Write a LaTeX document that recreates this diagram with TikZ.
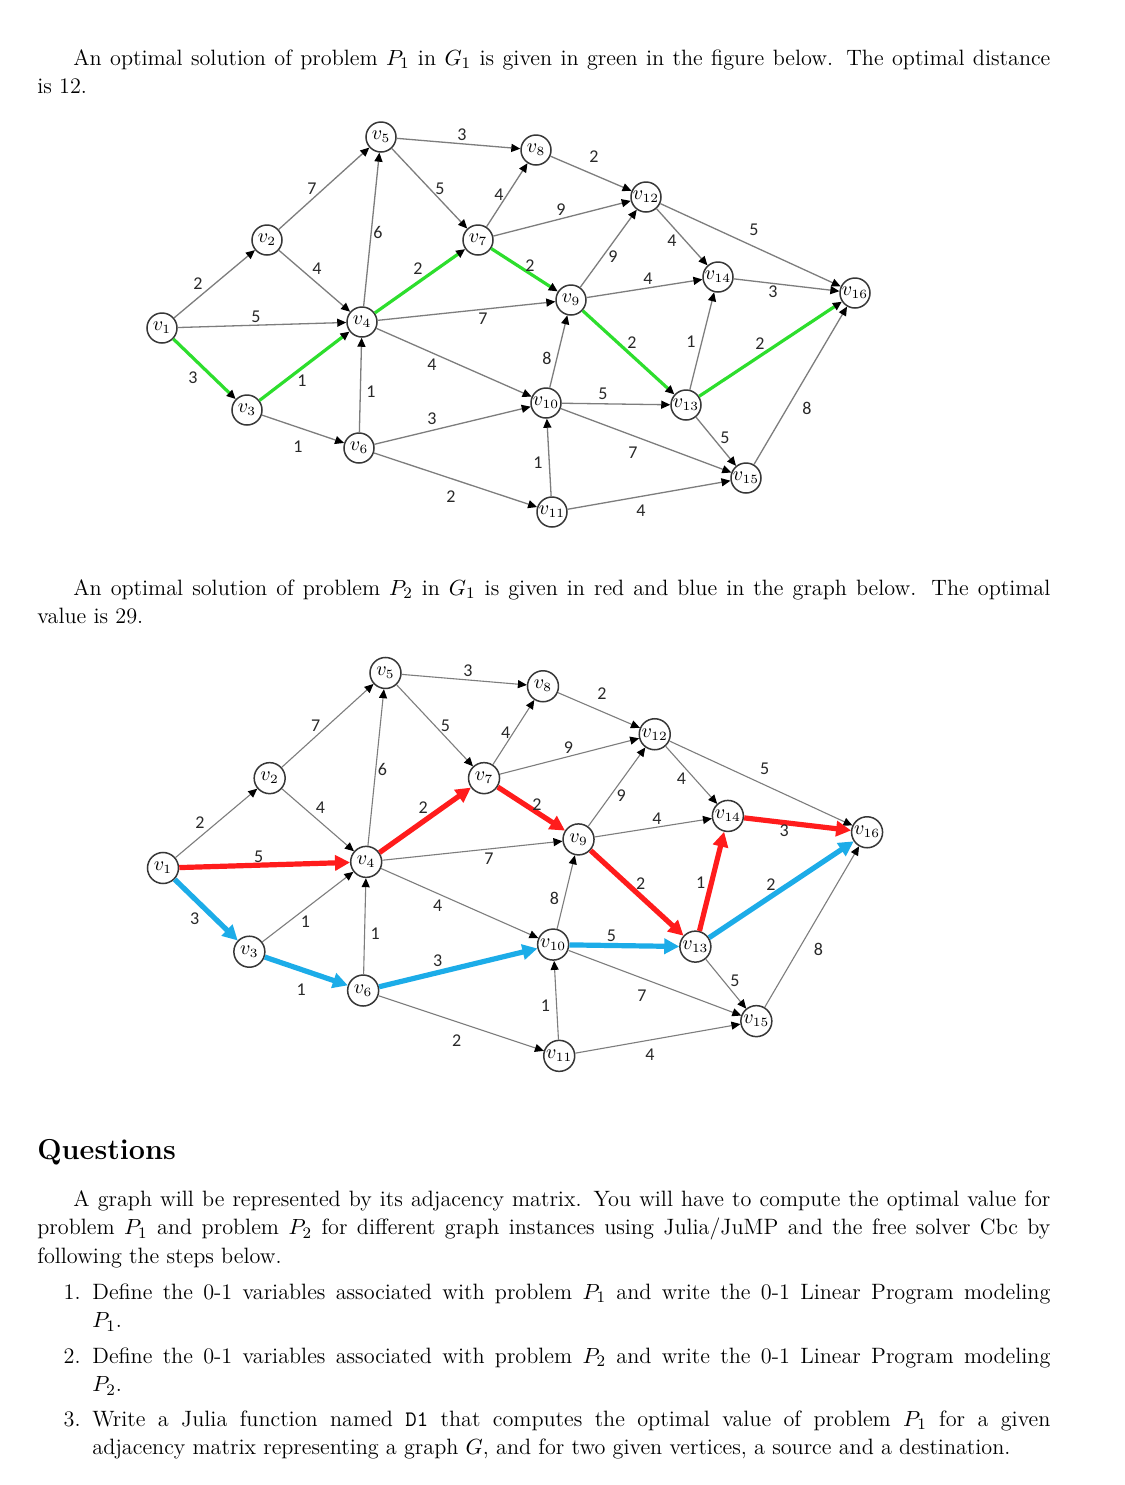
\documentclass[tikz,border=0pt]{standalone}
\usepackage{fontspec}
\newfontfamily\labfont{Carlito}
\usetikzlibrary{arrows.meta}
\definecolor{pgreen}{RGB}{45,222,45}
\definecolor{pred}{RGB}{255,28,28}
\definecolor{pblue}{RGB}{28,172,232}
\definecolor{edgegray}{RGB}{125,125,125}
\definecolor{nodegray}{RGB}{55,55,55}
\definecolor{labgray}{RGB}{40,40,40}
\newcommand\vname[1]{$v_{\hbox{\fontsize{6.3}{7}\selectfont#1}}$}

\newcommand\drawgraph[1]{%
  \node[vx] (#1v1)  at (162,328) {\vname{1}};
  \node[vx] (#1v2)  at (267,240) {\vname{2}};
  \node[vx] (#1v3)  at (247,410) {\vname{3}};
  \node[vx] (#1v4)  at (362,322) {\vname{4}};
  \node[vx] (#1v5)  at (381,137) {\vname{5}};
  \node[vx] (#1v6)  at (359,448) {\vname{6}};
  \node[vx] (#1v7)  at (478,240) {\vname{7}};
  \node[vx] (#1v8)  at (536,150) {\vname{8}};
  \node[vx] (#1v9)  at (571,300) {\vname{9}};
  \node[vx] (#1v10) at (546,403) {\vname{10}};
  \node[vx] (#1v11) at (552,512) {\vname{11}};
  \node[vx] (#1v12) at (646,197) {\vname{12}};
  \node[vx] (#1v13) at (686,405) {\vname{13}};
  \node[vx] (#1v14) at (718,277) {\vname{14}};
  \node[vx] (#1v15) at (746,478) {\vname{15}};
  \node[vx] (#1v16) at (855,293) {\vname{16}};
  \draw[ed] (#1v1) -- node[lab,shift={(-16.5,0)}]{2} (#1v2);
  \draw[ed] (#1v2) -- node[lab,shift={(-12,0)}]{7} (#1v5);
  \draw[ed] (#1v2) -- node[lab,shift={(2.5,-12)}]{4} (#1v4);
  \draw[ed] (#1v4) -- node[lab,shift={(6.5,2.5)}]{6} (#1v5);
  \draw[ed] (#1v6) -- node[lab,shift={(10.5,7)}]{1} (#1v4);
  \draw[ed] (#1v5) -- node[lab,shift={(10.5,0)}]{5} (#1v7);
  \draw[ed] (#1v5) -- node[lab,shift={(3.5,-8.5)}]{3} (#1v8);
  \draw[ed] (#1v4) -- node[lab,shift={(16.5,8)}]{7} (#1v9);
  \draw[ed] (#1v4) -- node[lab,shift={(-22,2.5)}]{4} (#1v10);
  \draw[ed] (#1v6) -- node[lab,shift={(-4.5,17)}]{2} (#1v11);
  \draw[ed] (#1v7) -- node[lab,shift={(-8,0)}]{4} (#1v8);
  \draw[ed] (#1v7) -- node[lab,shift={(-1,-8.5)}]{9} (#1v12);
  \draw[ed] (#1v8) -- node[lab,shift={(3,-16.5)}]{2} (#1v12);
  \draw[ed] (#1v9) -- node[lab,shift={(4.5,8.5)}]{9} (#1v12);
  \draw[ed] (#1v9) -- node[lab,shift={(3.5,-9.5)}]{4} (#1v14);
  \draw[ed] (#1v10) -- node[lab,shift={(-11.5,6.5)}]{8} (#1v9);
  \draw[ed] (#1v10) -- node[lab,shift={(-13,12.5)}]{7} (#1v15);
  \draw[ed] (#1v11) -- node[lab,shift={(-11,5.5)}]{1} (#1v10);
  \draw[ed] (#1v11) -- node[lab,shift={(-8,16)}]{4} (#1v15);
  \draw[ed] (#1v12) -- node[lab,shift={(-10,4)}]{4} (#1v14);
  \draw[ed] (#1v12) -- node[lab,shift={(3.5,-15)}]{5} (#1v16);
  \draw[ed] (#1v13) -- node[lab,shift={(9,-3.5)}]{5} (#1v15);
  \draw[ed] (#1v15) -- node[lab,shift={(6.5,22.5)}]{8} (#1v16);
  \draw[ed,gp] (#1v3) -- node[lab,shift={(-2.5,15)}]{1} (#1v4);
  \draw[ed,pb] (#1v3) -- node[lab,shift={(-5,18)}]{1} (#1v6);
  \draw[ed,pb] (#1v6) -- node[lab,shift={(-20.5,-6.5)}]{3} (#1v10);
  \draw[ed,pb] (#1v10) -- node[lab,shift={(-13,-10)}]{5} (#1v13);
  \draw[ed,gb] (#1v1) -- node[lab,shift={(-11.5,9)}]{3} (#1v3);
  \draw[ed,gb] (#1v13) -- node[lab,shift={(-10.5,-5)}]{2} (#1v16);
  \draw[ed,pr] (#1v1) -- node[lab,shift={(-6,-8)}]{5} (#1v4);
  \draw[ed,pr] (#1v14) -- node[lab,shift={(-13.5,7)}]{3} (#1v16);
  \draw[ed,pr] (#1v13) -- node[lab,shift={(-11,1)}]{1} (#1v14);
  \draw[ed,gr] (#1v4) -- node[lab,shift={(-2,-12)}]{2} (#1v7);
  \draw[ed,gr] (#1v7) -- node[lab,shift={(5.5,-4)}]{2} (#1v9);
  \draw[ed,gr] (#1v9) -- node[lab,shift={(3.5,-9.5)}]{2} (#1v13);
}

\begin{document}
\begin{tikzpicture}[x=0.5pt,y=-0.5pt,
  vx/.style={circle,draw=nodegray,line width=0.75pt,fill=white,
    minimum size=15pt,inner sep=0pt,font=\fontsize{10}{11}\selectfont},
  ed/.style={draw=edgegray,line width=0.65pt,
    -{Triangle[length=4.5pt,width=4pt,color=black]}},
  lab/.style={font=\labfont\fontsize{9}{10}\selectfont,text=labgray,inner sep=0pt},
  greenpath/.style={draw=pgreen,line width=1.6pt,
    -{Triangle[length=4.5pt,width=4pt,color=black]}},
  redpath/.style={draw=pred,line width=2.6pt,
    -{Triangle[length=7.5pt,width=7.5pt,color=pred]}},
  bluepath/.style={draw=pblue,line width=2.6pt,
    -{Triangle[length=7.5pt,width=7.5pt,color=pblue]}},
  para/.style={anchor=north west,inner sep=0pt,align=justify,
    font=\fontsize{11.1}{14.25}\selectfont},
]
\useasboundingbox[fill=white] (0,0) rectangle (1125,1485);

% ---------- text ----------
\node[para,text width=506.5pt] (t1) at (37,45)
  {\noindent\rule{0pt}{10pt}\hspace*{18pt}An optimal solution of problem $P_1$ in $G_1$ is given in green in the figure below. The optimal distance\linebreak is 12.};
\node[para,text width=506.5pt] (t2) at (37,575)
  {\noindent\rule{0pt}{10pt}\hspace*{18pt}An optimal solution of problem $P_2$ in $G_1$ is given in red and blue in the graph below. The optimal\linebreak value is 29.};
\node[anchor=base west,inner sep=0pt,font=\fontsize{14.4}{17}\selectfont\bfseries] (hq) at (37,1159) {Questions};
\node[para,text width=506.5pt] (t3) at (37,1186)
  {\noindent\rule{0pt}{10pt}\hspace*{18pt}A graph will be represented by its adjacency matrix. You will have to compute the optimal value for\linebreak problem $P_1$ and problem $P_2$ for different graph instances using Julia/JuMP and the free solver Cbc by\linebreak following the steps below.};
\node[para,anchor=north east] (n1) at (81,1279) {\rule{0pt}{10pt}1.};
\node[para,text width=479pt] (i1) at (92,1279)
  {\noindent\rule{0pt}{10pt}Define the 0-1 variables associated with problem $P_1$ and write the 0-1 Linear Program modeling\linebreak $P_1$.};
\node[para,anchor=north east] (n2) at (81,1343) {\rule{0pt}{10pt}2.};
\node[para,text width=479pt] (i2) at (92,1343)
  {\noindent\rule{0pt}{10pt}Define the 0-1 variables associated with problem $P_2$ and write the 0-1 Linear Program modeling\linebreak $P_2$.};
\node[para,anchor=north east] (n3) at (81,1406) {\rule{0pt}{10pt}3.};
\node[para,text width=479pt] (i3) at (92,1406)
  {\noindent\rule{0pt}{10pt}Write a Julia function named \texttt{D1} that computes the optimal value of problem $P_1$ for a given\linebreak adjacency matrix representing a graph $G$, and for two given vertices, a source and a destination.};

% ---------- graph 1 ----------
\begin{scope}[gb/.style=greenpath,gp/.style=greenpath,gr/.style=greenpath,
  pr/.style={},pb/.style={}]
  \drawgraph{a}
\end{scope}

% ---------- graph 2 ----------
\begin{scope}[xshift=-0.8pt,yshift=-266.55pt,xscale=1.016,yscale=1.021,
  vx/.append style={minimum size=15.5pt},
  ed/.append style={line width=0.55pt},
  gb/.style=bluepath,gp/.style={},gr/.style=redpath,
  pr/.style=redpath,pb/.style=bluepath]
  \drawgraph{b}
\end{scope}
\end{tikzpicture}
\end{document}
